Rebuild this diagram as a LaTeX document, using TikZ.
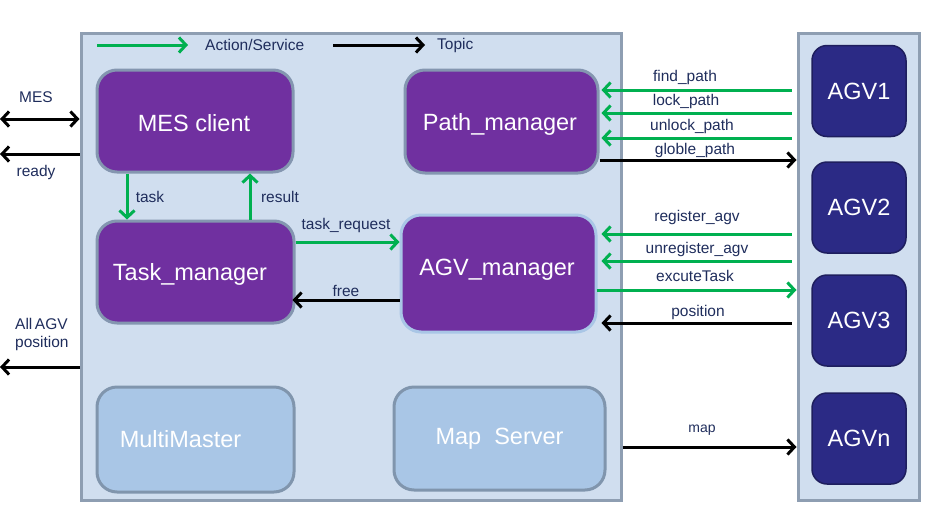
\documentclass[tikz,border=0pt]{standalone}
\usepackage{fontspec}
\setmainfont{Liberation Sans}
\usetikzlibrary{arrows.meta}
\definecolor{contfill}{HTML}{D0DEEF}
\definecolor{contline}{HTML}{8E9EB2}
\definecolor{purp}{HTML}{7030A0}
\definecolor{purpline}{HTML}{8496B0}
\definecolor{lbfill}{HTML}{A9C6E6}
\definecolor{lbline}{HTML}{8095AD}
\definecolor{navy}{HTML}{2B2A85}
\definecolor{navyline}{HTML}{1E1E5E}
\definecolor{grn}{HTML}{00B050}
\definecolor{lbl}{HTML}{1F2D5C}
\tikzset{
  cont/.style={draw=contline, fill=contfill, line width=3pt, inner sep=0pt},
  pbox/.style={draw=purpline, fill=purp, line width=3pt, rounded corners=20pt, inner sep=0pt},
  lbox/.style={draw=lbline, fill=lbfill, line width=3pt, rounded corners=20pt, inner sep=0pt},
  abox/.style={draw=navyline, fill=navy, line width=1.5pt, rounded corners=15pt, inner sep=0pt,
     minimum width=94pt, minimum height=91pt, text=white, font=\fontsize{23.5}{27}\selectfont},
  btext/.style={text=white, font=\fontsize{23.5}{27}\selectfont, inner sep=0pt},
  lab/.style={text=lbl, font=\fontsize{15.5}{18}\selectfont, inner sep=0pt},
  tip/.style={Straight Barb[length=7pt,width=15pt]},
  ga/.style={draw=grn, line width=3pt, -{Straight Barb[length=7pt,width=15pt]}},
  ka/.style={draw=black, line width=3pt, -{Straight Barb[length=7pt,width=15pt]}},
}
\begin{document}
\begin{tikzpicture}[x=1pt,y=-1pt]
\useasboundingbox (0,0) rectangle (930,512);
% containers
\node[cont, minimum width=540pt, minimum height=467pt] (main) at (351,266.5) {};
\node[cont, minimum width=121pt, minimum height=467pt] (rc) at (858.5,266.5) {};
% legend
\coordinate (lg1) at (97,45);
\coordinate (lg2) at (188,45);
\coordinate (lk1) at (333,45);
\coordinate (lk2) at (425,45);
\draw[ga] (lg1) -- (lg2);
\draw[ka] (lk1) -- (lk2);
\node[lab, anchor=west] (lgt) at (205,45) {Action/Service};
\node[lab, anchor=west] (lkt) at (437,45) {Topic};
% purple boxes
\node[pbox, minimum width=196pt, minimum height=102pt] (mes) at (195,121) {};
\node[btext] (mest) at (194,123) {MES client};
\node[pbox, minimum width=193pt, minimum height=103pt] (pm) at (501.5,121.5) {};
\node[btext] (pmt) at (500,124) {Path\_manager};
\node[pbox, minimum width=197pt, minimum height=102pt] (tm) at (195.5,272) {};
\node[btext] (tmt) at (190,274) {Task\_manager};
\node[pbox, draw=lbfill, minimum width=195pt, minimum height=117pt] (am) at (498.5,273.5) {};
\node[btext] (amt) at (497,270) {AGV\_manager};
% light boxes
\node[lbox, minimum width=197pt, minimum height=105pt] (mm) at (195.5,439.5) {};
\node[btext, xshift=-15pt] (mmt) at (mm.center) {MultiMaster};
\node[lbox, minimum width=211pt, minimum height=103pt] (ms) at (499.5,438.5) {};
\node[btext] (mst) at (ms.center) {Map\ \ Server};
% AGVs
\node[abox] (a1) at (859,91) {AGV1};
\node[abox] (a2) at (859,207.5) {AGV2};
\node[abox] (a3) at (859,320.5) {AGV3};
\node[abox] (an) at (859,438.5) {AGVn};
% left side
\coordinate (lmes) at (0,119);
\coordinate (lready) at (0,154);
\coordinate (lall) at (0,367);
\draw[ka, {Straight Barb[length=7pt,width=15pt]}-{Straight Barb[length=7pt,width=15pt]}] (lmes) -- (main.west|-lmes);
\draw[ka] (main.west|-lready) -- (lready);
\draw[ka] (main.west|-lall) -- (lall);
\node[lab] (tmes) at (36,97) {MES};
\node[lab] (tready) at (36,172) {ready};
\node[lab, align=left, anchor=west] (tall) at (15,334) {All\,AGV\\position};
% MES <-> Task
\draw[ga] (mes.south-|127,0) -- (tm.north-|127,0);
\draw[ga] (tm.north-|250,0) -- (mes.south-|250,0);
\node[lab] (ttask) at (150,197) {task};
\node[lab] (tres) at (280,197) {result};
% Task <-> AGV manager
\draw[ga] (tm.east|-0,242) -- (am.west|-0,242);
\node[lab] (treq) at (346,225) {task\_request};
\draw[ka] (am.west|-0,300) -- ([xshift=-3pt]tm.east|-0,300);
\node[lab] (tfree) at (346,291) {free};
% Path manager arrows
\draw[ga, shorten <=5pt, shorten >=2pt] (rc.west|-0,90) -- (pm.east|-0,90);
\node[lab] (tfind) at (685,77) {find\_path};
\draw[ga, shorten <=5pt, shorten >=2pt] (rc.west|-0,113) -- (pm.east|-0,113);
\node[lab] (tlock) at (686,101) {lock\_path};
\draw[ga, shorten <=5pt, shorten >=2pt] (rc.west|-0,138) -- (pm.east|-0,138);
\node[lab] (tunlock) at (692,126) {unlock\_path};
\draw[ka] (pm.east|-0,160) -- (rc.west|-0,160);
\node[lab] (tglob) at (695,150) {globle\_path};
% AGV manager arrows
\draw[ga, shorten <=5pt, shorten >=4pt] (rc.west|-0,234) -- (am.east|-0,234);
\node[lab] (treg) at (697,217) {register\_agv};
\draw[ga, shorten <=5pt, shorten >=4pt] (rc.west|-0,261) -- (am.east|-0,261);
\node[lab] (tunreg) at (697,249) {unregister\_agv};
\draw[ga, shorten <=-1pt] (am.east|-0,290) -- (rc.west|-0,290);
\node[lab] (texec) at (695,276) {excuteTask};
\draw[ka, shorten <=5pt, shorten >=4pt] (rc.west|-0,323) -- (am.east|-0,323);
\node[lab] (tpos) at (698,312) {position};
% map
\draw[ka] (main.east|-0,447) -- (rc.west|-0,447);
\node[lab, font=\fontsize{14}{17}\selectfont] (tmap) at (702,430) {map};
\end{tikzpicture}
\end{document}
